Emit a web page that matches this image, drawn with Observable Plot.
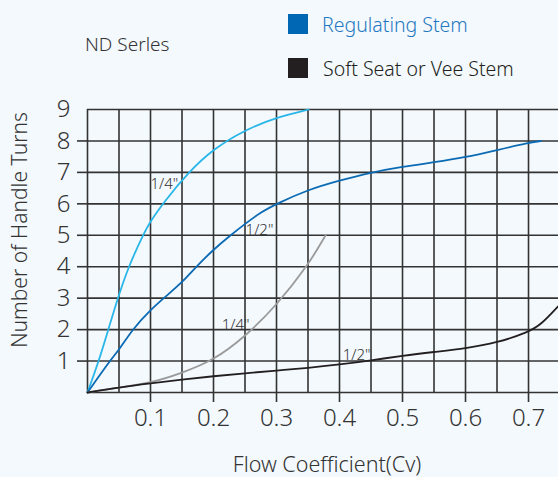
<!DOCTYPE html>
<html>
<head>
<meta charset="utf-8">
<script src="https://cdn.jsdelivr.net/npm/d3@7"></script>
<script src="https://cdn.jsdelivr.net/npm/@observablehq/plot@0.6"></script>
<style>
  html, body { margin: 0; padding: 0; background: #f3f9fd; }
  #wrap { position: relative; width: 558px; height: 477px; background: #f3f9fd; font-family: "Noto Sans", "Open Sans", sans-serif; font-weight: 300; color: #333; overflow: hidden; }
  .abs { position: absolute; white-space: nowrap; line-height: 1; }
  .sw { position: absolute; width: 20px; height: 20px; }
  #plot { position: absolute; left: 0; top: 0; }
</style>
</head>
<body>
<div id="wrap">
  <div id="plot"></div>
  <div class="abs" id="title" style="left:85px; top:35px; font-size:19px; color:#333;">ND Serles</div>
  <div class="sw" style="left:288px; top:14px; background:#0067b4;"></div>
  <div class="abs" style="left:322px; top:15px; font-size:19.5px; color:#1f78c1;">Regulating Stem</div>
  <div class="sw" style="left:288px; top:58px; background:#231f20;"></div>
  <div class="abs" style="left:323px; top:59px; font-size:19.5px; color:#231f20;">Soft Seat or Vee Stem</div>
  <div class="abs" style="left:327px; top:453px; transform:translateX(-50%); font-size:21.5px; color:#333;">Flow Coefficient(Cv)</div>
  <div class="abs" style="left:19px; top:230px; transform:translate(-50%,-50%) rotate(-90deg); font-size:21px; color:#333;">Number of Handle Turns</div>
</div>
<script>
// Regulating Stem 1/4"
const regQuarterX = [0, 0.018, 0.033, 0.048, 0.065, 0.088, 0.1, 0.121, 0.16, 0.2, 0.25, 0.3, 0.351];
const regQuarterY = [0, 1, 2, 3, 4, 5, 5.45, 6.05, 7.0, 7.75, 8.35, 8.75, 9];
// Regulating Stem 1/2"
const regHalfX = [0, 0.035, 0.05, 0.071, 0.1, 0.124, 0.15, 0.17, 0.2, 0.227, 0.25, 0.275, 0.3, 0.35, 0.4, 0.45, 0.5, 0.55, 0.6, 0.65, 0.7, 0.72];
const regHalfY = [0, 1, 1.35, 2, 2.63, 3.05, 3.5, 3.95, 4.55, 5, 5.36, 5.73, 6, 6.45, 6.74, 7.0, 7.18, 7.32, 7.48, 7.71, 7.94, 8];
// Soft Seat 1/4"
const softQuarterX = [0, 0.05, 0.1, 0.15, 0.2, 0.25, 0.3, 0.35, 0.378];
const softQuarterY = [0, 0.16, 0.3, 0.62, 1.02, 1.77, 2.77, 4.04, 5];
// Soft Seat 1/2"
const softHalfX = [0, 0.05, 0.1, 0.15, 0.2, 0.25, 0.3, 0.35, 0.4, 0.45, 0.5, 0.55, 0.6, 0.65, 0.7, 0.72, 0.747];
const softHalfY = [0, 0.16, 0.29, 0.41, 0.52, 0.61, 0.7, 0.78, 0.89, 1.02, 1.17, 1.29, 1.4, 1.58, 1.92, 2.16, 2.74];

const seriesNames = ["regQuarter", "regHalf", "softQuarter", "softHalf"];
const seriesColors = ["#29b6e9", "#0b6ab4", "#9a9a9a", "#231f20"];

// curve labels
const labelText = ["1/4\"", "1/2\"", "1/4\"", "1/2\""];
const labelX = [0.122, 0.273, 0.235, 0.427];
const labelY = [6.64, 5.15, 2.14, 1.19];

const xTicks = [0.1, 0.2, 0.3, 0.4, 0.5, 0.6, 0.7];
const yTicks = [1, 2, 3, 4, 5, 6, 7, 8];
const xGrid = d3.range(0, 15).map(i => +(i * 0.05).toFixed(2));
const yGrid = d3.range(0, 10);

const toPts = (xs, ys, s) => xs.map((x, i) => ({x, y: ys[i], s}));
const data = [
  ...toPts(regQuarterX, regQuarterY, "regQuarter"),
  ...toPts(regHalfX, regHalfY, "regHalf"),
  ...toPts(softQuarterX, softQuarterY, "softQuarter"),
  ...toPts(softHalfX, softHalfY, "softHalf")
];
const labels = labelText.map((t, i) => ({t, x: labelX[i], y: labelY[i]}));

const plot = Plot.plot({
  width: 558,
  height: 477,
  marginLeft: 87,
  marginRight: 0,
  marginTop: 109,
  marginBottom: 85,
  style: {background: "transparent", fontFamily: "'Noto Sans', 'Open Sans', sans-serif", fontWeight: 300, color: "#333"},
  x: {domain: [0, 0.7476]},
  y: {domain: [0, 9]},
  color: {domain: seriesNames, range: seriesColors},
  marks: [
    Plot.ruleX(xGrid, {stroke: "#333", strokeWidth: 1.6, strokeOpacity: 1}),
    Plot.ruleY(yGrid, {stroke: "#333", strokeWidth: 1.6, strokeOpacity: 1}),
    Plot.axisX({ticks: xTicks, tickSize: 10, tickPadding: 6, tickFormat: d => d.toFixed(1), fontSize: 24, stroke: "#333", strokeWidth: 1.6, label: null}),
    Plot.axisY({ticks: yTicks, tickSize: 10, tickPadding: 7, fontSize: 24, stroke: "#333", strokeWidth: 1.6, label: null}),
    Plot.axisY({ticks: [9], tickSize: 0, tickPadding: 17, fontSize: 24, label: null}),
    Plot.line(data, {x: "x", y: "y", z: "s", stroke: "s", strokeWidth: 1.8, curve: "basis"}),
    Plot.text(labels, {x: "x", y: "y", text: "t", fontSize: 15, fill: "#333"})
  ]
});
document.getElementById("plot").appendChild(plot);
</script>
</body>
</html>
